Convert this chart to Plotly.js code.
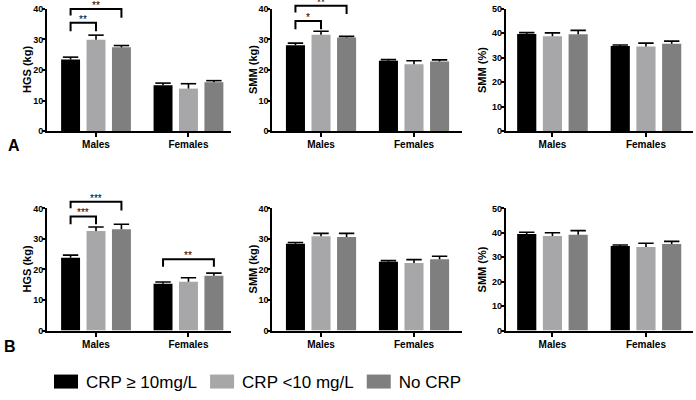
<!DOCTYPE html>
<html><head><meta charset="utf-8">
<script src="https://cdn.plot.ly/plotly-3.0.1.min.js"></script>
<style>html,body{margin:0;padding:0;background:#fff}#chart{width:696px;height:400px}</style>
</head><body><div id="chart"></div>
<script>
// ---------- data ----------
const categories = ['Males', 'Females'];
const seriesNames = ['CRP ≥ 10mg/L', 'CRP <10 mg/L', 'No CRP'];
const panelTitles = ['HGS (kg)', 'SMM (kg)', 'SMM (%)', 'HGS (kg)', 'SMM (kg)', 'SMM (%)'];
const panelYMax = [40, 40, 50, 40, 40, 50];
const rowLetters = ['A', 'B'];

// rows = series (CRP>=10, CRP<10, No CRP), columns = categories (Males, Females)
const meanA_HGS = [[23.4, 15.0], [29.9, 13.9], [27.4, 16.0]];
const semA_HGS  = [[0.8, 0.7], [1.5, 1.6], [0.6, 0.5]];
const meanA_SMMkg = [[28.1, 23.0], [31.5, 21.9], [30.6, 22.8]];
const semA_SMMkg  = [[0.7, 0.4], [1.2, 1.1], [0.4, 0.5]];
const meanA_SMMpct = [[39.7, 34.8], [38.8, 34.6], [39.6, 35.7]];
const semA_SMMpct  = [[0.6, 0.4], [1.4, 1.4], [1.6, 1.1]];
const meanB_HGS = [[23.8, 15.3], [32.6, 16.0], [33.2, 17.9]];
const semB_HGS  = [[0.9, 0.6], [1.3, 1.3], [1.6, 0.9]];
const meanB_SMMkg = [[28.4, 22.5], [30.9, 22.1], [30.6, 23.3]];
const semB_SMMkg  = [[0.4, 0.4], [0.9, 1.1], [1.2, 1.0]];
const meanB_SMMpct = [[39.5, 34.6], [38.7, 34.2], [39.2, 35.4]];
const semB_SMMpct  = [[0.7, 0.4], [1.3, 1.5], [1.7, 1.1]];

// significance brackets: category index, series from/to, bracket level, leg ends, label
const bracketsA_HGS = [
  {cat: 0, from: 0, to: 2, level: 40.0, endFrom: 37.8, endTo: 37.1, label: '**'},
  {cat: 0, from: 0, to: 1, level: 35.5, endFrom: 32.7, endTo: 32.7, label: '**'}
];
const bracketsA_SMMkg = [
  {cat: 0, from: 0, to: 2, level: 41.0, endFrom: 38.8, endTo: 38.3, label: '**'},
  {cat: 0, from: 0, to: 1, level: 36.0, endFrom: 33.3, endTo: 33.3, label: '*'}
];
const bracketsB_HGS = [
  {cat: 0, from: 0, to: 2, level: 42.2, endFrom: 40.0, endTo: 39.3, label: '***'},
  {cat: 0, from: 0, to: 1, level: 37.35, endFrom: 34.8, endTo: 34.8, label: '***'},
  {cat: 1, from: 0, to: 2, level: 23.3, endFrom: 20.9, endTo: 20.9, label: '**'}
];

const panelMeans = [meanA_HGS, meanA_SMMkg, meanA_SMMpct, meanB_HGS, meanB_SMMkg, meanB_SMMpct];
const panelSems = [semA_HGS, semA_SMMkg, semA_SMMpct, semB_HGS, semB_SMMkg, semB_SMMpct];
const panelBrackets = [bracketsA_HGS, bracketsA_SMMkg, [], bracketsB_HGS, [], []];

// ---------- styling / layout ----------
const W = 696, H = 400;
const seriesColors = ['#000000', '#a7a7a9', '#7f7f7f'];
const FONT = 'Liberation Sans, Arial, Helvetica, sans-serif';
const colPx = [[47, 231], [272.3, 461.7], [505.7, 693]];
const colRange = [[-0.53, 1.46], [-0.524, 1.513], [-0.5, 1.503]];
const colTitleX = [27, 253, 482];
const rowPx = [[9, 132.7], [211, 334.7]];
const BARGAP = 0.175, BARGROUPGAP = 0.255;
const slot = (1 - BARGAP) / 3;

const traces = [];
const capTraces = [];
const layout = {
  width: W, height: H,
  margin: {l: 0, r: 0, t: 0, b: 0},
  paper_bgcolor: '#fff', plot_bgcolor: '#fff',
  barmode: 'group', bargap: BARGAP, bargroupgap: BARGROUPGAP,
  font: {family: FONT, color: '#000'},
  showlegend: true,
  legend: {
    orientation: 'h', x: 46 / W, xanchor: 'left', y: 1 - 387 / H, yanchor: 'middle',
    font: {family: FONT, size: 17, color: '#000'}, itemclick: false, itemdoubleclick: false
  },
  shapes: [], annotations: []
};

for (let p = 0; p < 6; p++) {
  const row = Math.floor(p / 3), col = p % 3;
  const xa = 'x' + (p + 1), ya = 'y' + (p + 1);
  const ymax = panelYMax[p];
  const tv = [];
  for (let t = 0; t <= ymax; t += 10) tv.push(t);

  layout['xaxis' + (p + 1)] = {
    domain: [colPx[col][0] / W, colPx[col][1] / W],
    anchor: ya, type: 'linear', range: colRange[col],
    tickvals: categories.map((c, i) => i), ticktext: categories,
    ticks: 'outside', ticklen: 4, tickwidth: 2, tickcolor: '#000', ticklabelstandoff: -1,
    showline: true, linewidth: 2, linecolor: '#000',
    showgrid: false, zeroline: false, fixedrange: true,
    tickfont: {family: FONT, size: 10, color: '#000', weight: 'bold'}
  };
  layout['yaxis' + (p + 1)] = {
    domain: [1 - rowPx[row][1] / H, 1 - rowPx[row][0] / H],
    anchor: xa, range: [0, ymax], tickvals: tv,
    ticks: 'outside', ticklen: 3, tickwidth: 2, tickcolor: '#000', ticklabelstandoff: -3,
    showline: true, linewidth: 2, linecolor: '#000',
    showgrid: false, zeroline: false, fixedrange: true,
    tickfont: {family: FONT, size: 9, color: '#000', weight: 'bold'}
  };
  // y-axis title placed as rotated text beside the axis
  layout.annotations.push({xref: 'paper', yref: ya + ' domain', x: colTitleX[col] / W, y: 0.5,
    text: panelTitles[p], textangle: -90, showarrow: false, xanchor: 'center', yanchor: 'middle',
    font: {family: FONT, size: 11, color: '#000', weight: 'bold'}});

  for (let s = 0; s < 3; s++) {
    traces.push({
      type: 'bar', name: seriesNames[s], legendgroup: 's' + s, showlegend: p === 0,
      x: categories.map((c, i) => i), y: panelMeans[p][s],
      xaxis: xa, yaxis: ya,
      marker: {color: seriesColors[s], line: {width: 0}},
      error_y: {type: 'data', symmetric: false, array: panelSems[p][s],
                arrayminus: panelSems[p][s].map(() => 0),
                color: '#000', thickness: 1.6, width: 0},
      hoverinfo: 'skip'
    });
    // cap at the top of each (upper-only) SEM bar
    capTraces.push({
      type: 'scatter', mode: 'markers', showlegend: false, hoverinfo: 'skip',
      x: categories.map((c, i) => i + (s - 1) * slot),
      y: panelMeans[p][s].map((m, i) => m + panelSems[p][s][i]),
      xaxis: xa, yaxis: ya,
      marker: {symbol: 'line-ew', size: 11, color: '#000', line: {color: '#000', width: 1.6}}
    });
  }

  panelBrackets[p].forEach(b => {
    const x0 = b.cat + (b.from - 1) * slot;
    const x1 = b.cat + (b.to - 1) * slot;
    const yr = ya + ' domain';
    layout.shapes.push({type: 'path', xref: xa, yref: yr,
      path: 'M' + x0 + ',' + (b.endFrom / ymax) + 'L' + x0 + ',' + (b.level / ymax) +
            'L' + x1 + ',' + (b.level / ymax) + 'L' + x1 + ',' + (b.endTo / ymax),
      line: {color: '#000', width: 2}});
    layout.annotations.push({xref: xa, yref: yr, x: (x0 + x1) / 2, y: b.level / ymax,
      text: b.label, showarrow: false, yanchor: 'bottom', yshift: -4,
      font: {family: FONT, size: 10, color: '#000'}});
  });
}

rowLetters.forEach((L, r) => {
  layout.annotations.push({xref: 'paper', yref: 'paper', x: (r === 0 ? 14 : 10) / W,
    y: 1 - (r === 0 ? 147.5 : 350.5) / H, text: L, showarrow: false,
    xanchor: 'center', yanchor: 'middle',
    font: {family: FONT, size: 16, color: '#000', weight: 'bold'}});
});

Plotly.newPlot('chart', traces.concat(capTraces), layout, {staticPlot: true, displayModeBar: false})
  .then(() => {
    // widen legend swatches to the reference's rectangular keys
    document.querySelectorAll('#chart .legend .legendpoints path').forEach(el => {
      el.setAttribute('d', 'M12,7H-12V-7H12Z');
    });
  });
</script>
</body></html>
